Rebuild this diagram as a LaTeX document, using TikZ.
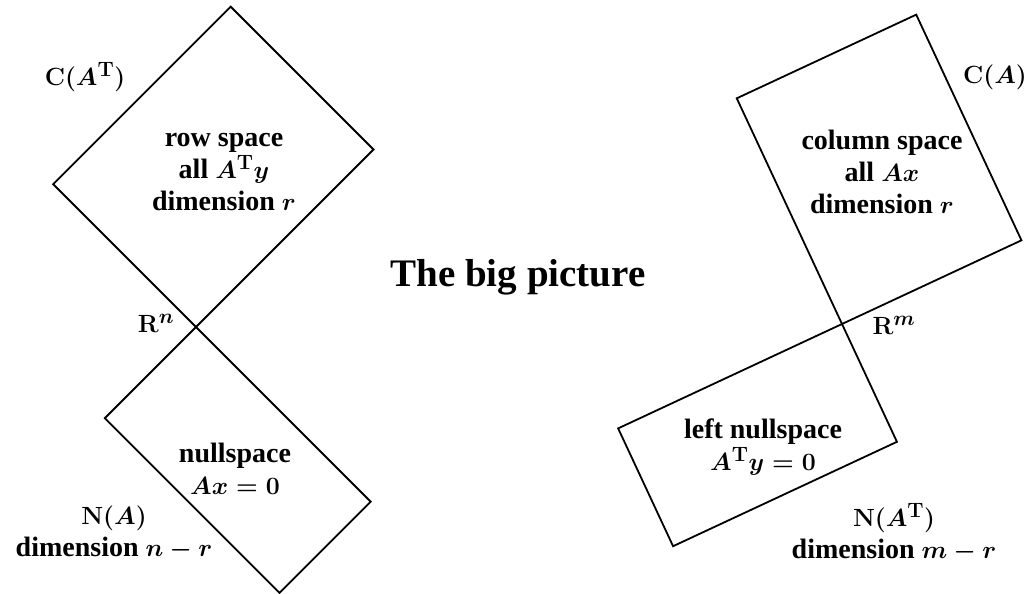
\documentclass[tikz,border=0pt]{standalone}
\usepackage[no-math]{fontspec}
\setmainfont{Liberation Serif}

\colorlet{space edge}{black}
\tikzset{space/.style={draw=space edge, line width=1.8pt, line join=miter},
    spacetext/.style={font=\fontsize{28}{32}\selectfont\bfseries\boldmath,
        align=center, inner sep=0pt},
    bigtitle/.style={font=\fontsize{39}{44}\selectfont\bfseries, inner sep=0pt}}
\def\rowspace{(Rn) -- ++(45:251) -- ++(135:202) -- ++(225:251) -- cycle}
\def\nullspace{(Rn) -- ++(225:129) -- ++(-45:247) -- ++(45:129) -- cycle}
\def\colspace{(Rm) -- ++(25:198) -- ++(115:249) -- ++(205:198) -- cycle}
\def\leftnull{(Rm) -- ++(205:247) -- ++(-65:130) -- ++(25:247) -- cycle}

\begin{document}
\begin{tikzpicture}[x=1pt,y=1pt]
     \useasboundingbox (0,0) rectangle (1031,594);
     \coordinate (Rn) at (196,267);
     \coordinate (Rm) at (842,270);
     % the four subspaces
     \draw[space] \rowspace;
     \draw[space] \nullspace;
     \draw[space] \colspace;
     \draw[space] \leftnull;
     % left side
     \node[spacetext] (CAT) at (85,517) {$\mathbf{C}(A^{\mathrm{T}})$};
     \node[spacetext] (row) at (224,422) {row space\\all $A^{\mathrm{T}}y$\\dimension $r$};
     \node[spacetext] (Rnlabel) at (156,271) {$\mathbf{R}^n$};
     \node[spacetext] (null) at (235,125) {nullspace\\$Ax=0$};
     \node[spacetext] (NA) at (114,61) {$\mathbf{N}(A)$\\dimension $n-r$};
     % right side
     \node[spacetext] (col) at (882,422) {column space\\all $Ax$\\dimension $r$};
     \node[spacetext] (CA) at (995,517) {$\mathbf{C}(A)$};
     \node[spacetext] (Rmlabel) at (894,269) {$\mathbf{R}^m$};
     \node[spacetext] (lnull) at (763,147) {left nullspace\\$A^{\mathrm{T}}y=0$};
     \node[spacetext] (NAT) at (894,61) {$\mathbf{N}(A^{\mathrm{T}})$\\dimension $m-r$};
     \node[bigtitle] (title) at (518,317) {The big picture};
\end{tikzpicture}
\end{document}
